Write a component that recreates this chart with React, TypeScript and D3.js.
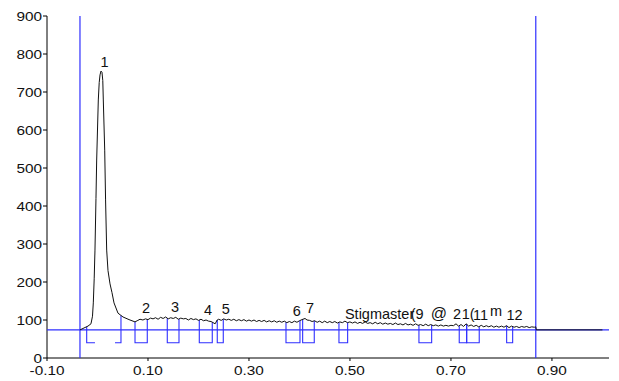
import React from "react";
import * as d3 from "d3";

// ---- data ----
const xTickValues = [-0.1, 0.1, 0.3, 0.5, 0.7, 0.9];
const xTickLabels = ["-0.10", "0.10", "0.30", "0.50", "0.70", "0.90"];
const yTickValues = [0, 100, 200, 300, 400, 500, 600, 700, 800, 900];
const yTickLabels = ["0", "100", "200", "300", "400", "500", "600", "700", "800", "900"];

// signal trace: [Rf, intensity]
const signal: [number, number][] = [
  [-0.0347, 74], [-0.0267, 79], [-0.0188, 84], [-0.0129, 90], [-0.0099, 110],
  [-0.0083, 145], [-0.0065, 210], [-0.005, 284], [-0.003, 420], [-0.0016, 521],
  [0.0, 600], [0.0016, 679], [0.0034, 725], [0.005, 745], [0.0069, 755],
  [0.0089, 752], [0.0105, 730], [0.0115, 679], [0.0143, 547], [0.016, 416],
  [0.0182, 284], [0.0208, 230], [0.0248, 195], [0.0287, 172], [0.0327, 145],
  [0.0406, 118], [0.0505, 108], [0.0624, 101], [0.0743, 95], [0.08, 99], [0.0842, 102],
  [0.09, 100], [0.095, 103], [0.1, 101], [0.105, 105], [0.11, 103], [0.115, 106],
  [0.12, 102], [0.125, 107], [0.13, 104], [0.135, 108], [0.14, 103], [0.145, 106],
  [0.15, 104], [0.155, 107], [0.16, 102], [0.165, 105], [0.17, 103], [0.175, 104],
  [0.18, 100], [0.185, 104], [0.19, 101], [0.195, 103], [0.2, 99], [0.205, 102],
  [0.21, 98], [0.215, 100], [0.22, 97], [0.225, 96], [0.233, 90], [0.237, 100],
  [0.24, 102], [0.245, 99], [0.25, 103], [0.255, 100], [0.26, 102], [0.265, 99],
  [0.27, 102], [0.275, 98], [0.28, 101], [0.285, 98], [0.29, 101], [0.295, 97],
  [0.3, 100], [0.305, 97], [0.31, 100], [0.315, 96], [0.32, 99], [0.325, 96],
  [0.33, 99], [0.335, 95], [0.34, 98], [0.345, 95], [0.35, 98], [0.355, 94],
  [0.36, 97], [0.365, 94], [0.37, 97], [0.375, 93], [0.38, 96], [0.385, 93],
  [0.39, 97], [0.395, 94], [0.4, 98], [0.405, 101], [0.411, 104], [0.415, 100],
  [0.42, 99], [0.425, 96], [0.43, 98], [0.435, 94], [0.44, 97], [0.445, 93],
  [0.45, 97], [0.455, 93], [0.46, 96], [0.465, 93], [0.47, 96], [0.475, 92],
  [0.48, 95], [0.485, 93], [0.49, 97], [0.495, 93], [0.5, 95], [0.505, 92],
  [0.51, 95], [0.515, 91], [0.52, 94], [0.525, 91], [0.53, 95], [0.535, 91],
  [0.54, 93], [0.545, 90], [0.55, 94], [0.555, 90], [0.56, 93], [0.565, 89],
  [0.57, 92], [0.575, 89], [0.58, 91], [0.585, 88], [0.59, 92], [0.595, 88],
  [0.6, 90], [0.605, 87], [0.61, 91], [0.615, 87], [0.62, 89], [0.625, 86],
  [0.63, 90], [0.635, 86], [0.64, 88], [0.645, 85], [0.65, 89], [0.655, 85],
  [0.66, 88], [0.665, 85], [0.67, 87], [0.675, 84], [0.68, 87], [0.685, 84],
  [0.69, 86], [0.695, 84], [0.7, 86], [0.705, 85], [0.71, 90], [0.715, 84],
  [0.72, 88], [0.725, 83], [0.73, 90], [0.735, 84], [0.74, 87], [0.745, 83],
  [0.75, 86], [0.755, 82], [0.76, 86], [0.765, 82], [0.77, 85], [0.775, 82],
  [0.78, 85], [0.785, 81], [0.79, 84], [0.795, 81], [0.8, 84], [0.805, 81],
  [0.81, 85], [0.815, 80], [0.82, 84], [0.825, 81], [0.83, 83], [0.835, 80],
  [0.84, 83], [0.845, 81], [0.85, 83], [0.855, 80], [0.86, 82], [0.865, 81],
  [0.868, 82], [0.869, 74], [1.0, 74],
];

const baselineValue = 74;
const frontStart = -0.0347;
const frontEnd = 0.868;
const boxBottom = 40;

const peakStart = [-0.0214, 0.0743, 0.1382, 0.2016, 0.2372, 0.3733, 0.4063, 0.4782, 0.6366, 0.7164, 0.7311, 0.8103];
const peakEnd = [0.0465, 0.0986, 0.1614, 0.2273, 0.2491, 0.401, 0.4293, 0.4954, 0.6618, 0.7311, 0.756, 0.8222];
// peak 1 bottom is drawn as two short stubs
const stubLeftEnd = -0.005;
const stubRightStart = 0.0347;

const labelText = ["1", "2", "3", "4", "5", "6", "7"];
const labelX = [0.0139, 0.096, 0.1535, 0.2188, 0.2539, 0.3945, 0.4208];
const labelY = [766, 118, 120, 112, 116, 110, 118];

const runText = ["Stigmaster", "(9", "@", "2", "1(", "11", "m", "12"];
const runX = [0.4901, 0.6202, 0.6598, 0.704, 0.7212, 0.7436, 0.7772, 0.81];
const runY = [103, 103, 103, 103, 103, 101, 111, 101];

const BLUE = "#2f2fff";

export default function App() {
  const x = d3.scaleLinear().domain([-0.1, 1.013]).range([47, 609]);
  const y = d3.scaleLinear().domain([0, 900]).range([358, 16]);
  const line = d3
    .line<[number, number]>()
    .x((d) => x(d[0]))
    .y((d) => y(d[1]));
  const bis = d3.bisector((d: [number, number]) => d[0]).left;
  const sigAt = (v: number) => {
    const i = Math.max(1, Math.min(signal.length - 1, bis(signal, v)));
    const a = signal[i - 1];
    const b = signal[i];
    const t = (v - a[0]) / (b[0] - a[0]);
    return a[1] + (b[1] - a[1]) * t;
  };
  const font = "'Liberation Sans', Arial, Helvetica, sans-serif";

  const boxes: string[] = [];
  peakStart.forEach((s, i) => {
    const e = peakEnd[i];
    const yb = y(boxBottom);
    if (i === 0) {
      boxes.push(`M${x(s)},${y(sigAt(s))}L${x(s)},${yb}L${x(stubLeftEnd)},${yb}`);
      boxes.push(`M${x(stubRightStart)},${yb}L${x(e)},${yb}L${x(e)},${y(sigAt(e))}`);
    } else {
      boxes.push(
        `M${x(s)},${y(sigAt(s))}L${x(s)},${yb}L${x(e)},${yb}L${x(e)},${y(sigAt(e))}`
      );
    }
  });

  return (
    <svg
      width={619}
      height={381}
      style={{ position: "absolute", left: 0, top: 0, background: "#fff" }}
    >
      {/* axes */}
      <line x1={47} x2={47} y1={y(900)} y2={y(0)} stroke="#000" strokeWidth={1} />
      <line x1={47} x2={609} y1={y(0)} y2={y(0)} stroke="#000" strokeWidth={1} />
      {yTickValues.map((v, i) => (
        <g key={"yt" + i}>
          <line x1={43} x2={47} y1={y(v)} y2={y(v)} stroke="#000" />
          <text
            transform={`translate(42,${y(v)}) scale(1.18,1)`}
            dy="0.36em"
            textAnchor="end"
            fontFamily={font}
            fontSize={13}
            fill="#111"
          >
            {yTickLabels[i]}
          </text>
        </g>
      ))}
      {xTickValues.map((v, i) => (
        <g key={"xt" + i}>
          <line x1={x(v)} x2={x(v)} y1={y(0)} y2={y(0) + 3} stroke="#000" />
          <text
            transform={`translate(${x(v)},375) scale(1.18,1)`}
            textAnchor="middle"
            fontFamily={font}
            fontSize={13}
            fill="#111"
          >
            {xTickLabels[i]}
          </text>
        </g>
      ))}

      {/* baseline and front lines */}
      <line x1={47} x2={609} y1={y(baselineValue)} y2={y(baselineValue)} stroke={BLUE} strokeWidth={1.2} />
      <line x1={x(frontStart)} x2={x(frontStart)} y1={y(900)} y2={y(0)} stroke={BLUE} strokeWidth={1.2} />
      <line x1={x(frontEnd)} x2={x(frontEnd)} y1={y(900)} y2={y(0)} stroke={BLUE} strokeWidth={1.2} />

      {/* integration boxes */}
      {boxes.map((d, i) => (
        <path key={"b" + i} d={d} fill="none" stroke={BLUE} strokeWidth={1.1} />
      ))}

      {/* signal */}
      <path d={line(signal) || ""} fill="none" stroke="#111" strokeWidth={1} />

      {/* peak labels */}
      {labelText.map((t, i) => (
        <text
          key={"l" + i}
          x={x(labelX[i])}
          y={y(labelY[i])}
          textAnchor="middle"
          fontFamily={font}
          fontSize={14.5}
          fill="#111"
        >
          {t}
        </text>
      ))}
      {runText.map((t, i) => (
        <text
          key={"r" + i}
          x={x(runX[i])}
          y={y(runY[i])}
          textAnchor="start"
          fontFamily={font}
          fontSize={t === "@" ? 16 : 14.5}
          fill="#111"
        >
          {t}
        </text>
      ))}
    </svg>
  );
}
